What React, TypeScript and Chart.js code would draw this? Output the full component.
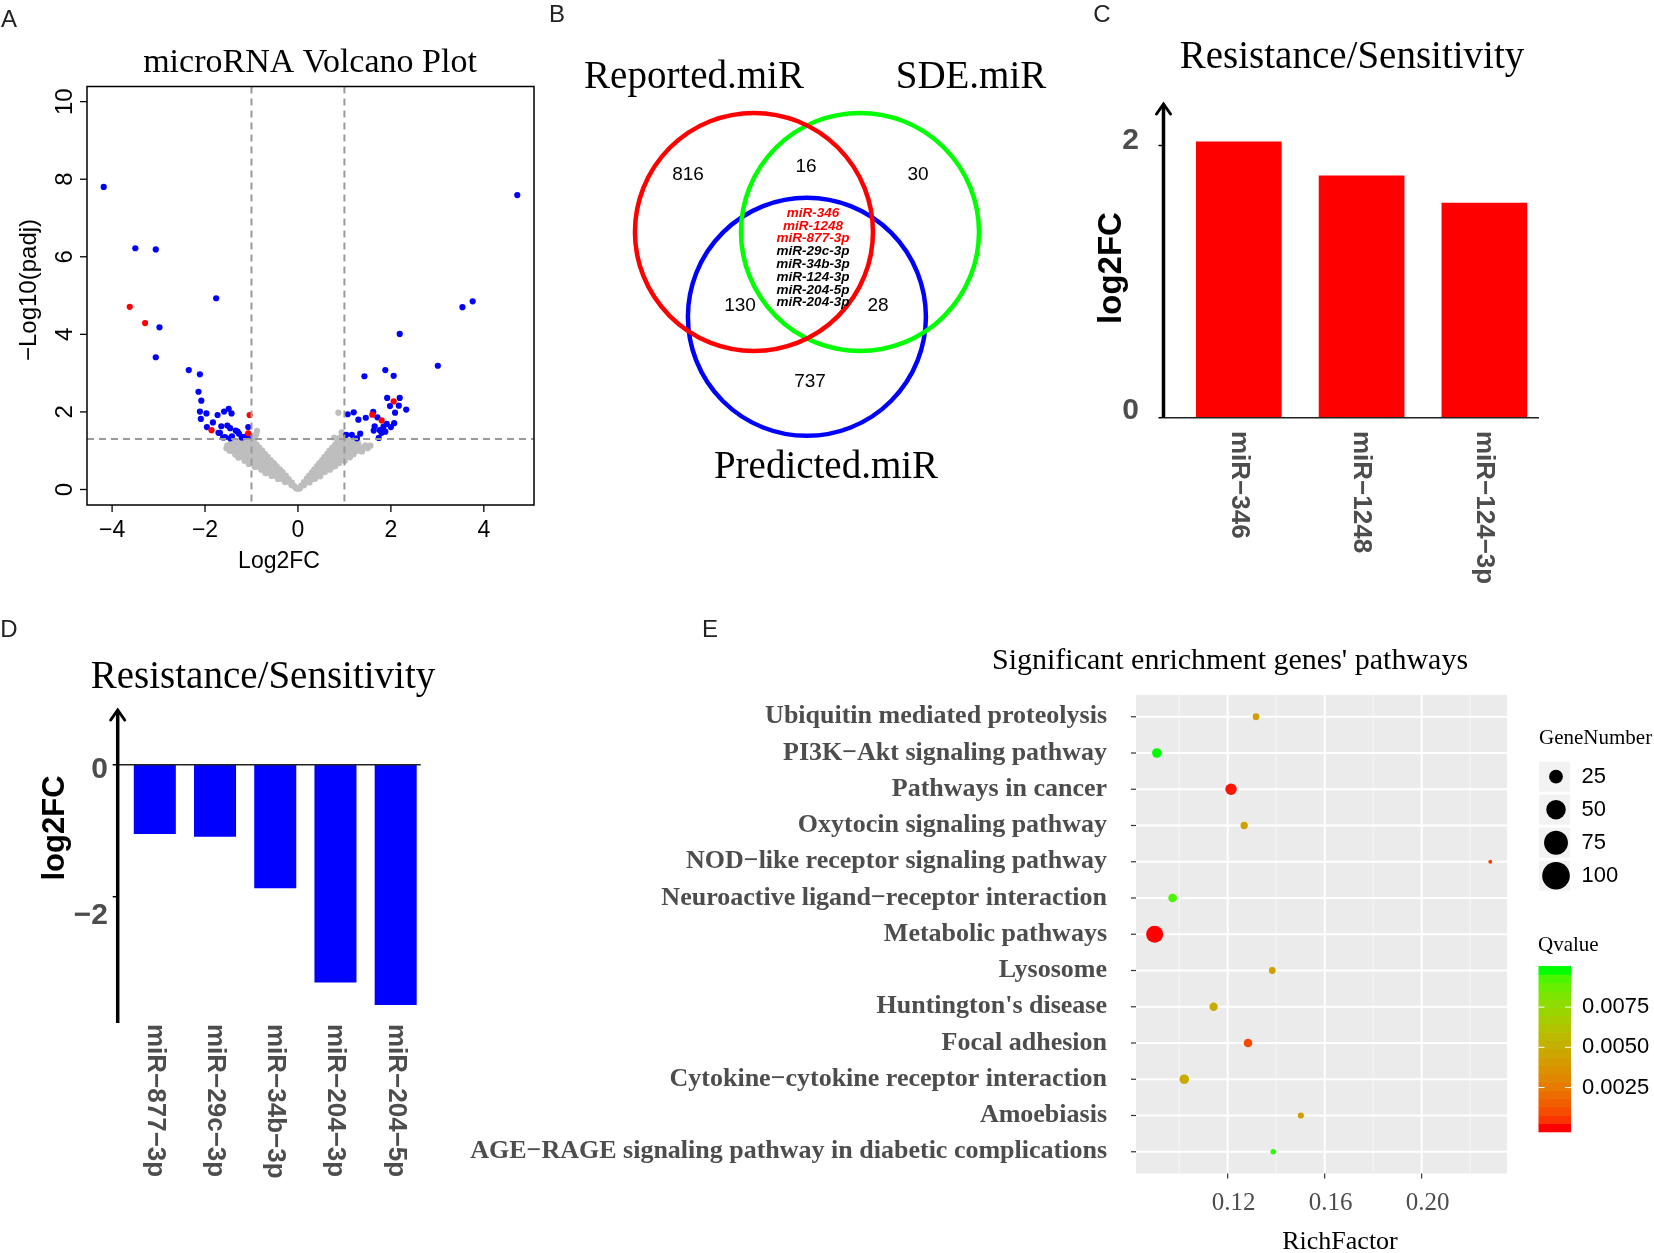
import React, { useEffect, useRef } from "react";
import { Chart, registerables } from "chart.js";

Chart.register(...registerables);

const PAGE_W = 1654;
const PAGE_H = 1253;
const SERIF = '"Liberation Serif", "Times New Roman", serif';
const SANS = '"Liberation Sans", Arial, sans-serif';

type Pt = [number, number];

// ---------------- Panel A : volcano ----------------
const volcanoXTicks = [-4, -2, 0, 2, 4];
const volcanoYTicks = [0, 2, 4, 6, 8, 10];
const fcCutoffs = [-1, 1];
const padjCutoff = 1.3;

const bluePoints: Pt[] = [
  [-4.18, 7.8], [-3.5, 6.22], [-3.06, 6.19], [-1.76, 4.93], [-2.98, 4.18], [-3.06, 3.41],
  [-2.35, 3.08], [-2.11, 2.97], [-2.14, 2.52], [-2.08, 2.29], [-2.11, 2.01], [-1.97, 1.96],
  [-2.09, 1.82], [-1.73, 1.92], [-1.59, 2.01], [-1.49, 2.08], [-1.43, 1.96], [-1.83, 1.73],
  [-1.96, 1.61], [-1.65, 1.63], [-1.52, 1.65], [-1.46, 1.58], [-1.71, 1.46], [-1.57, 1.35],
  [-1.34, 1.52], [-1.27, 1.44], [-1.42, 1.37], [-1.19, 1.35], [-1.07, 1.61], [-1.3, 1.49],
  [-1.11, 1.37], [-1.61, 1.34], [-1.46, 1.32], [-1.21, 1.34], [-1.05, 1.38], [-1.68, 1.46],
  [4.72, 7.59], [3.54, 4.7], [3.76, 4.85], [2.19, 4.01], [3.01, 3.19], [1.43, 2.92],
  [1.88, 3.08], [2.06, 2.93], [1.92, 2.36], [2.19, 2.36], [1.98, 2.15], [2.17, 2.16],
  [2.33, 2.06], [2.09, 1.98], [1.07, 1.94], [1.2, 1.99], [1.3, 1.8], [1.46, 1.85],
  [1.62, 2.0], [1.71, 1.86], [1.65, 1.63], [1.63, 1.52], [1.91, 1.69], [2.0, 1.61],
  [2.07, 1.71], [1.88, 1.49], [1.8, 1.46], [1.74, 1.33], [1.04, 1.41], [1.16, 1.41],
  [1.27, 1.32], [1.34, 1.44], [1.84, 1.62], [1.76, 1.53],
];

const redPoints: Pt[] = [
  [-3.62, 4.71], [-3.29, 4.29], [-1.86, 1.53], [-1.04, 1.92], [-1.07, 1.45],
  [2.06, 2.27], [1.6, 1.93], [1.8, 1.78],
];

const greyPoints: Pt[] = [
  [-0.02, 0.02], [-0.05, 0.04], [-0.08, 0.09], [-0.14, 0.11],
  [-0.13, 0.18], [-0.2, 0.2], [-0.28, 0.19],
  [-0.2, 0.27], [-0.28, 0.29], [-0.36, 0.28], [-0.43, 0.27],
  [-0.26, 0.36], [-0.34, 0.37], [-0.42, 0.35], [-0.5, 0.36], [-0.57, 0.35],
  [-0.33, 0.45], [-0.41, 0.44], [-0.49, 0.43], [-0.57, 0.45], [-0.65, 0.44], [-0.7, 0.42],
  [-0.39, 0.52], [-0.47, 0.53], [-0.55, 0.51], [-0.63, 0.52], [-0.71, 0.53], [-0.79, 0.51],
  [-0.46, 0.6], [-0.54, 0.61], [-0.62, 0.59], [-0.7, 0.6], [-0.78, 0.61], [-0.86, 0.59], [-0.93, 0.58],
  [-0.52, 0.68], [-0.6, 0.69], [-0.68, 0.67], [-0.76, 0.68], [-0.84, 0.69], [-0.92, 0.67], [-1.0, 0.68], [-1.06, 0.66],
  [-0.59, 0.76], [-0.67, 0.77], [-0.75, 0.75], [-0.83, 0.76], [-0.91, 0.77], [-0.99, 0.75], [-1.07, 0.76], [-1.15, 0.74],
  [-0.65, 0.84], [-0.73, 0.85], [-0.81, 0.83], [-0.89, 0.84], [-0.97, 0.85], [-1.05, 0.83], [-1.13, 0.84], [-1.21, 0.85], [-1.28, 0.82],
  [-0.71, 0.92], [-0.79, 0.93], [-0.87, 0.91], [-0.95, 0.92], [-1.03, 0.93], [-1.11, 0.91], [-1.19, 0.92], [-1.27, 0.93], [-1.35, 0.9],
  [-0.77, 1.0], [-0.85, 1.01], [-0.93, 0.99], [-1.01, 1.0], [-1.09, 1.01], [-1.17, 0.99], [-1.25, 1.0], [-1.33, 1.01], [-1.41, 0.99], [-1.47, 1.0],
  [-0.83, 1.08], [-0.91, 1.09], [-0.99, 1.07], [-1.07, 1.08], [-1.15, 1.09], [-1.23, 1.07], [-1.31, 1.08], [-1.39, 1.09], [-1.47, 1.07], [-1.54, 1.06],
  [-0.89, 1.16], [-0.97, 1.17], [-1.05, 1.15], [-1.13, 1.16], [-1.21, 1.17], [-1.29, 1.15], [-1.37, 1.16], [-1.45, 1.17], [-1.52, 1.14],
  [-0.95, 1.24], [-1.03, 1.25], [-1.11, 1.23], [-1.19, 1.24], [-1.27, 1.25], [-1.35, 1.23], [-1.43, 1.22],
  [-0.93, 1.33], [-0.98, 1.29], [-0.9, 1.42], [-0.88, 1.51], [-0.96, 1.38],
  [0.02, 0.02], [0.05, 0.04], [0.07, 0.1], [0.13, 0.11],
  [0.13, 0.19], [0.19, 0.2], [0.25, 0.18],
  [0.19, 0.28], [0.26, 0.29], [0.33, 0.27], [0.37, 0.28],
  [0.24, 0.36], [0.31, 0.37], [0.38, 0.35], [0.45, 0.36], [0.48, 0.34],
  [0.3, 0.44], [0.37, 0.45], [0.44, 0.43], [0.51, 0.44], [0.58, 0.45],
  [0.35, 0.52], [0.42, 0.53], [0.49, 0.51], [0.56, 0.52], [0.63, 0.53], [0.69, 0.51],
  [0.41, 0.6], [0.48, 0.61], [0.55, 0.59], [0.62, 0.6], [0.69, 0.61], [0.76, 0.59], [0.8, 0.6],
  [0.46, 0.68], [0.53, 0.69], [0.6, 0.67], [0.67, 0.68], [0.74, 0.69], [0.81, 0.67], [0.89, 0.68],
  [0.52, 0.76], [0.59, 0.77], [0.66, 0.75], [0.73, 0.76], [0.8, 0.77], [0.87, 0.75], [0.94, 0.76], [1.01, 0.74],
  [0.57, 0.84], [0.64, 0.85], [0.71, 0.83], [0.78, 0.84], [0.85, 0.85], [0.92, 0.83], [0.99, 0.84], [1.06, 0.85], [1.12, 0.83],
  [0.63, 0.92], [0.7, 0.93], [0.77, 0.91], [0.84, 0.92], [0.91, 0.93], [0.98, 0.91], [1.05, 0.92], [1.12, 0.93], [1.2, 0.91],
  [0.68, 1.0], [0.75, 1.01], [0.82, 0.99], [0.89, 1.0], [0.96, 1.01], [1.03, 0.99], [1.1, 1.0], [1.17, 1.01], [1.24, 0.99], [1.31, 1.0], [1.38, 0.98],
  [0.74, 1.08], [0.81, 1.09], [0.88, 1.07], [0.95, 1.08], [1.02, 1.09], [1.09, 1.07], [1.16, 1.08], [1.23, 1.09], [1.3, 1.07], [1.4, 1.08], [1.5, 1.06],
  [0.8, 1.16], [0.87, 1.17], [0.94, 1.15], [1.01, 1.16], [1.08, 1.17], [1.15, 1.15], [1.22, 1.16], [1.3, 1.17], [1.45, 1.14], [1.56, 1.13],
  [0.85, 1.24], [0.92, 1.25], [0.99, 1.23], [1.06, 1.24], [1.13, 1.25], [1.2, 1.23], [1.28, 1.22],
  [0.78, 1.34], [0.94, 1.47], [0.98, 1.38], [0.87, 1.98], [1.04, 1.28], [0.9, 1.33],
];

// ---------------- Panel B : Venn ----------------
const vennSets = ["Reported.miR", "SDE.miR", "Predicted.miR"];
const vennColors = ["#FF0000", "#00FF00", "#0000FF"];
const vennCentres: Pt[] = [[0, 0], [0.891, 0], [0.445, 0.714]];
const vennCounts = {
  reportedOnly: 816,
  reportedSde: 16,
  sdeOnly: 30,
  reportedPredicted: 130,
  sdePredicted: 28,
  predictedOnly: 737,
};
const vennCore = [
  "miR-346", "miR-1248", "miR-877-3p", "miR-29c-3p", "miR-34b-3p",
  "miR-124-3p", "miR-204-5p", "miR-204-3p",
];
const vennCoreHighlighted = 3;

// ---------------- Panel C ----------------
const upLabels = ["miR−346", "miR−1248", "miR−124−3p"];
const upValues = [2.03, 1.78, 1.58];
const upTicks = [0, 2];

// ---------------- Panel D ----------------
const downLabels = ["miR−877−3p", "miR−29c−3p", "miR−34b−3p", "miR−204−3p", "miR−204−5p"];
const downValues = [-1.05, -1.09, -1.87, -3.3, -3.64];
const downTicks = [0, -2];

// ---------------- Panel E ----------------
const pathways = [
  "Ubiquitin mediated proteolysis",
  "PI3K−Akt signaling pathway",
  "Pathways in cancer",
  "Oxytocin signaling pathway",
  "NOD−like receptor signaling pathway",
  "Neuroactive ligand−receptor interaction",
  "Metabolic pathways",
  "Lysosome",
  "Huntington's disease",
  "Focal adhesion",
  "Cytokine−cytokine receptor interaction",
  "Amoebiasis",
  "AGE−RAGE signaling pathway in diabetic complications",
];
const richFactor = [0.1317, 0.0908, 0.1214, 0.1268, 0.2283, 0.0973, 0.0899, 0.1384, 0.1142, 0.1284, 0.1021, 0.1502, 0.1388];
const geneNumber = [6, 12, 17, 7, 2, 10, 38, 6, 9, 10, 12, 5, 4];
const qValue = [0.0043, 0.0098, 0.0001, 0.0043, 0.0008, 0.0093, 0.00001, 0.0043, 0.0049, 0.001, 0.0049, 0.0043, 0.0096];
const richMajorTicks = [0.12, 0.16, 0.2];
const richMinorTicks = [0.1, 0.14, 0.18, 0.22];
const geneLegendBreaks = [25, 50, 75, 100];
const qLegendBreaks = [0.0025, 0.005, 0.0075];
const qLimits = [0.00001, 0.0098];

// ---------------- helpers ----------------
const pad = (l: number, t: number, r: number, b: number) => ({ left: l, top: t, right: PAGE_W - r, bottom: PAGE_H - b });

const baseOptions = (padding: any) => ({
  responsive: false,
  animation: false as const,
  events: [] as any[],
  layout: { padding },
  plugins: { legend: { display: false }, tooltip: { enabled: false }, title: { display: false } },
});

function drawText(ctx: CanvasRenderingContext2D, s: string, x: number, y: number, font: string, color: string,
  align: CanvasTextAlign = "center", baseline: CanvasTextBaseline = "middle", rot = 0) {
  ctx.save();
  ctx.translate(x, y);
  if (rot) ctx.rotate(rot);
  ctx.font = font;
  ctx.fillStyle = color;
  ctx.textAlign = align;
  ctx.textBaseline = baseline;
  ctx.fillText(s, 0, 0);
  ctx.restore();
}

function drawLine(ctx: CanvasRenderingContext2D, x1: number, y1: number, x2: number, y2: number, color: string, width: number, dash: number[] = []) {
  ctx.save();
  ctx.strokeStyle = color;
  ctx.lineWidth = width;
  ctx.setLineDash(dash);
  ctx.beginPath();
  ctx.moveTo(x1, y1);
  ctx.lineTo(x2, y2);
  ctx.stroke();
  ctx.restore();
}

const fmtMinus = (v: number) => (v < 0 ? "−" + Math.abs(v) : String(v));

// Lab colour interpolation (ggplot-like gradient red -> green)
const WHITE = [0.95047, 1, 1.08883];
const toLin = (c: number) => { c /= 255; return c <= 0.04045 ? c / 12.92 : Math.pow((c + 0.055) / 1.055, 2.4); };
const fromLin = (c: number) => { c = Math.max(0, Math.min(1, c)); return 255 * (c <= 0.0031308 ? 12.92 * c : 1.055 * Math.pow(c, 1 / 2.4) - 0.055); };
function rgbToLab(rgb: number[]) {
  const R = toLin(rgb[0]), G = toLin(rgb[1]), B = toLin(rgb[2]);
  const X = 0.4124 * R + 0.3576 * G + 0.1805 * B;
  const Y = 0.2126 * R + 0.7152 * G + 0.0722 * B;
  const Z = 0.0193 * R + 0.1192 * G + 0.9505 * B;
  const f = (t: number) => (t > 216 / 24389 ? Math.cbrt(t) : ((24389 / 27) * t + 16) / 116);
  const fx = f(X / WHITE[0]), fy = f(Y / WHITE[1]), fz = f(Z / WHITE[2]);
  return [116 * fy - 16, 500 * (fx - fy), 200 * (fy - fz)];
}
function labToRgb(lab: number[]) {
  const fy = (lab[0] + 16) / 116, fx = fy + lab[1] / 500, fz = fy - lab[2] / 200;
  const inv = (t: number) => (t * t * t > 216 / 24389 ? t * t * t : (116 * t - 16) / (24389 / 27));
  const X = WHITE[0] * inv(fx), Y = WHITE[1] * inv(fy), Z = WHITE[2] * inv(fz);
  const R = 3.2406 * X - 1.5372 * Y - 0.4986 * Z;
  const G = -0.9689 * X + 1.8758 * Y + 0.0415 * Z;
  const B = 0.0557 * X - 0.204 * Y + 1.057 * Z;
  return [fromLin(R), fromLin(G), fromLin(B)];
}
const LAB_LOW = rgbToLab([255, 0, 0]);
const LAB_HIGH = rgbToLab([0, 255, 0]);
function qColor(q: number) {
  const t = Math.max(0, Math.min(1, (q - qLimits[0]) / (qLimits[1] - qLimits[0])));
  const lab = LAB_LOW.map((v, i) => v + (LAB_HIGH[i] - v) * t);
  const c = labToRgb(lab).map((v) => Math.round(v));
  return `rgb(${c[0]},${c[1]},${c[2]})`;
}
const geneRadius = (g: number) => 1.38 * Math.sqrt(g);

// ---------------- chart builders ----------------
function buildVolcano(canvas: HTMLCanvasElement) {
  const deco = {
    id: "volcanoDeco",
    afterDatasetsDraw(chart: any) {
      const { ctx, chartArea: a, scales } = chart;
      const x = scales.x, y = scales.y;
      for (const v of fcCutoffs) {
        const px = x.getPixelForValue(v);
        drawLine(ctx, px, a.top, px, a.bottom, "#9a9a9a", 2, [7, 5]);
      }
      const py = y.getPixelForValue(padjCutoff);
      drawLine(ctx, a.left, py, a.right, py, "#9a9a9a", 2, [7, 5]);
      ctx.save();
      ctx.strokeStyle = "#000";
      ctx.lineWidth = 1.5;
      ctx.strokeRect(a.left, a.top, a.right - a.left, a.bottom - a.top);
      ctx.restore();
      for (const v of volcanoXTicks) {
        const px = x.getPixelForValue(v);
        drawLine(ctx, px, a.bottom, px, a.bottom + 7, "#000", 1.3);
        drawText(ctx, fmtMinus(v), px, 531, `23px ${SANS}`, "#000");
      }
      for (const v of volcanoYTicks) {
        const yy = y.getPixelForValue(v);
        drawLine(ctx, a.left - 7, yy, a.left, yy, "#000", 1.3);
        drawText(ctx, String(v), 65, yy, `24px ${SANS}`, "#000", "center", "middle", -Math.PI / 2);
      }
      drawText(ctx, "microRNA Volcano Plot", 310, 63, `34px ${SERIF}`, "#000");
      drawText(ctx, "Log2FC", 279, 562, `23px ${SANS}`, "#000");
      drawText(ctx, "−Log10(padj)", 29, 290, `24px ${SANS}`, "#000", "center", "middle", -Math.PI / 2);
      drawText(ctx, "A", 9, 20, `24px ${SANS}`, "#222");
    },
  };
  const mk = (pts: Pt[], color: string, order: number) => ({
    data: pts.map(([px, py]) => ({ x: px, y: py })),
    pointRadius: 3.1,
    pointBackgroundColor: color,
    pointBorderWidth: 0,
    pointBorderColor: color,
    borderWidth: 0,
    order,
  });
  return new Chart(canvas, {
    type: "scatter",
    data: { datasets: [mk(greyPoints, "#BEBEBE", 3), mk(bluePoints, "#0000FF", 2), mk(redPoints, "#FF0000", 1)] as any },
    options: {
      ...baseOptions(pad(87, 86.5, 534, 505)),
      scales: {
        x: { type: "linear", display: false, min: -4.54, max: 5.08 },
        y: { type: "linear", display: false, min: -0.4, max: 10.39 },
      },
    } as any,
    plugins: [deco],
  });
}

function buildVenn(canvas: HTMLCanvasElement) {
  const deco = {
    id: "vennDeco",
    afterDatasetsDraw(chart: any) {
      const { ctx } = chart;
      const setFont = `39px ${SERIF}`;
      drawText(ctx, vennSets[0], 694, 78, setFont, "#000");
      drawText(ctx, vennSets[1], 971, 78, setFont, "#000");
      drawText(ctx, vennSets[2], 826, 468, setFont, "#000");
      const nf = `19px ${SANS}`;
      drawText(ctx, String(vennCounts.reportedOnly), 688, 175, nf, "#000");
      drawText(ctx, String(vennCounts.reportedSde), 806, 167, nf, "#000");
      drawText(ctx, String(vennCounts.sdeOnly), 918, 175, nf, "#000");
      drawText(ctx, String(vennCounts.reportedPredicted), 740, 306, nf, "#000");
      drawText(ctx, String(vennCounts.sdePredicted), 878, 306, nf, "#000");
      drawText(ctx, String(vennCounts.predictedOnly), 810, 382, nf, "#000");
      vennCore.forEach((name, i) => {
        drawText(ctx, name, 813, 213 + i * 12.8, `italic bold 13.5px ${SANS}`, i < vennCoreHighlighted ? "#FF0000" : "#000");
      });
      drawText(ctx, "B", 557, 15, `24px ${SANS}`, "#222");
    },
  };
  const unitRadius = (c: any) => c.chart.scales.x.getPixelForValue(1) - c.chart.scales.x.getPixelForValue(0);
  return new Chart(canvas, {
    type: "scatter",
    data: {
      datasets: vennCentres.map((c, i) => ({
        data: [{ x: c[0], y: c[1] }],
        pointRadius: unitRadius,
        pointBackgroundColor: "rgba(0,0,0,0)",
        pointBorderColor: vennColors[i],
        pointBorderWidth: 4.5,
        clip: false,
      })) as any,
    },
    options: {
      ...baseOptions(pad(629, 107, 1105, 446)),
      scales: {
        x: { type: "linear", display: false, min: -1.05, max: 2.95 },
        y: { type: "linear", display: false, min: -1.05, max: 1.8, reverse: true },
      },
    } as any,
    plugins: [deco],
  });
}

function buildBars(canvas: HTMLCanvasElement, cfg: any) {
  const deco = {
    id: "barDeco" + cfg.letter,
    afterDatasetsDraw(chart: any) {
      const { ctx, chartArea: a, scales } = chart;
      const x = scales.x, y = scales.y;
      const y0 = y.getPixelForValue(0);
      drawLine(ctx, cfg.axisX, y0, cfg.baseEnd, y0, "#222", 1.5);
      drawLine(ctx, cfg.axisX, a.bottom, cfg.axisX, a.top + 1, "#000", 3.5);
      ctx.save();
      ctx.strokeStyle = "#000";
      ctx.lineWidth = 3;
      ctx.lineCap = "round";
      ctx.beginPath();
      ctx.moveTo(cfg.axisX - 7, a.top + 10);
      ctx.lineTo(cfg.axisX, a.top);
      ctx.lineTo(cfg.axisX + 7, a.top + 10);
      ctx.stroke();
      ctx.restore();
      cfg.ticks.forEach((v: number, i: number) => {
        const py = y.getPixelForValue(v);
        drawLine(ctx, cfg.axisX - 5, py, cfg.axisX, py, "#000", 1.5);
        drawText(ctx, fmtMinus(v), cfg.tickRight, py + cfg.tickOffsets[i], `bold 30px ${SANS}`, "#4D4D4D", "right");
      });
      chart.data.labels.forEach((lab: string, i: number) => {
        const px = x.getPixelForValue(i);
        drawText(ctx, lab, px, cfg.labelTop, `bold 26px ${SANS}`, "#4D4D4D", "left", "middle", Math.PI / 2);
      });
      drawText(ctx, "log2FC", cfg.yTitle[0], cfg.yTitle[1], `bold ${cfg.yTitleSize}px ${SANS}`, "#000", "center", "middle", -Math.PI / 2);
      drawText(ctx, "Resistance/Sensitivity", cfg.title[0], cfg.title[1], `39px ${SERIF}`, "#000");
      drawText(ctx, cfg.letter, cfg.letterPos[0], cfg.letterPos[1], `24px ${SANS}`, "#222");
    },
  };
  return new Chart(canvas, {
    type: "bar",
    data: {
      labels: cfg.labels,
      datasets: [{ data: cfg.values, backgroundColor: cfg.color, borderWidth: 0, barPercentage: 0.698, categoryPercentage: 1 }],
    },
    options: {
      ...baseOptions(cfg.padding),
      scales: {
        x: { type: "category", display: false, offset: true },
        y: { type: "linear", display: false, min: cfg.min, max: cfg.max },
      },
    } as any,
    plugins: [deco],
  });
}

const buildUp = (c: HTMLCanvasElement) =>
  buildBars(c, {
    letter: "C", letterPos: [1102, 15], labels: upLabels, values: upValues, color: "#FF0000",
    padding: pad(1177.4, 104, 1545.8, 417.7), min: 0, max: 2.305,
    axisX: 1163.5, baseEnd: 1539, ticks: upTicks, tickOffsets: [-7, -5], tickRight: 1139,
    labelTop: 431, yTitle: [1112, 268], yTitleSize: 33, title: [1352, 58],
  });

const buildDown = (c: HTMLCanvasElement) =>
  buildBars(c, {
    letter: "D", letterPos: [9, 630], labels: downLabels, values: downValues, color: "#0000FF",
    padding: pad(124.7, 710, 425.8, 1023), min: -3.914, max: 0.83,
    axisX: 117.7, baseEnd: 420.7, ticks: downTicks, tickOffsets: [5, 19], tickRight: 108,
    labelTop: 1024, yTitle: [55, 828], yTitleSize: 31, title: [263, 678],
  });

function buildEnrich(canvas: HTMLCanvasElement) {
  const deco = {
    id: "enrichDeco",
    beforeDatasetsDraw(chart: any) {
      const { ctx, chartArea: a, scales } = chart;
      const x = scales.x, y = scales.y;
      ctx.save();
      ctx.fillStyle = "#EBEBEB";
      ctx.fillRect(a.left, a.top, a.right - a.left, a.bottom - a.top);
      ctx.restore();
      for (const v of richMinorTicks) {
        const px = x.getPixelForValue(v);
        drawLine(ctx, px, a.top, px, a.bottom, "#F7F7F7", 1);
      }
      for (const v of richMajorTicks) {
        const px = x.getPixelForValue(v);
        drawLine(ctx, px, a.top, px, a.bottom, "#FFFFFF", 2);
      }
      pathways.forEach((_, i) => {
        const py = y.getPixelForValue(i + 1);
        drawLine(ctx, a.left, py, a.right, py, "#FFFFFF", 2);
      });
    },
    afterDatasetsDraw(chart: any) {
      const { ctx, chartArea: a, scales } = chart;
      const x = scales.x, y = scales.y;
      pathways.forEach((name, i) => {
        const py = y.getPixelForValue(i + 1);
        drawLine(ctx, a.left - 5, py, a.left, py, "#333", 1.2);
        drawText(ctx, name, 1107, py, `bold 26px ${SERIF}`, "#4D4D4D", "right");
      });
      for (const v of richMajorTicks) {
        const px = x.getPixelForValue(v);
        drawLine(ctx, px, a.bottom, px, a.bottom + 5, "#333", 1.2);
        drawText(ctx, v.toFixed(2), px + 6, 1203, `25px ${SERIF}`, "#4D4D4D");
      }
      drawText(ctx, "RichFactor", 1340, 1242, `26px ${SERIF}`, "#000");
      drawText(ctx, "Significant enrichment genes' pathways", 1230, 661, `30px ${SERIF}`, "#000");
      drawText(ctx, "E", 710, 630, `24px ${SANS}`, "#222");

      // size legend
      drawText(ctx, "GeneNumber", 1539, 738, `21px ${SERIF}`, "#000", "left");
      geneLegendBreaks.forEach((g, i) => {
        const cy = 776.7 + i * 33;
        ctx.save();
        ctx.fillStyle = "#F2F2F2";
        ctx.fillRect(1539, cy - 15, 31, 30);
        ctx.fillStyle = "#000";
        ctx.beginPath();
        ctx.arc(1556, cy, geneRadius(g), 0, Math.PI * 2);
        ctx.fill();
        ctx.restore();
        drawText(ctx, String(g), 1581.5, cy, `22px ${SANS}`, "#000", "left");
      });

      // colour legend
      drawText(ctx, "Qvalue", 1538, 945, `21px ${SERIF}`, "#000", "left");
      const barL = 1538.5, barR = 1571, barT = 966, barB = 1131.7, nbin = 20;
      const h = (barB - barT) / nbin;
      for (let i = 0; i < nbin; i++) {
        const v = qLimits[0] + (i / (nbin - 1)) * (qLimits[1] - qLimits[0]);
        ctx.save();
        ctx.fillStyle = qColor(v);
        ctx.fillRect(barL, barB - (i + 1) * h, barR - barL, h + 0.6);
        ctx.restore();
      }
      for (const q of qLegendBreaks) {
        const py = barB - h / 2 - ((q - qLimits[0]) / (qLimits[1] - qLimits[0])) * (barB - barT - h);
        drawLine(ctx, barL, py, barL + 6, py, "#FFFFFF", 1);
        drawLine(ctx, barR - 6, py, barR, py, "#FFFFFF", 1);
        drawText(ctx, q.toFixed(4), 1582, py, `22px ${SANS}`, "#000", "left");
      }
    },
  };
  return new Chart(canvas, {
    type: "scatter",
    data: {
      datasets: [
        {
          data: pathways.map((_, i) => ({ x: richFactor[i], y: i + 1 })),
          pointRadius: (c: any) => geneRadius(geneNumber[c.dataIndex] ?? 1),
          pointBackgroundColor: (c: any) => qColor(qValue[c.dataIndex] ?? 0),
          pointBorderWidth: 0,
          borderWidth: 0,
        },
      ] as any,
    },
    options: {
      ...baseOptions(pad(1136, 695, 1507, 1173.5)),
      scales: {
        x: { type: "linear", display: false, min: 0.0822, max: 0.2352 },
        y: { type: "linear", display: false, min: 0.4, max: 13.6, reverse: true },
      },
    } as any,
    plugins: [deco],
  });
}

function ChartCanvas({ build }: { build: (c: HTMLCanvasElement) => Chart }) {
  const ref = useRef<HTMLCanvasElement>(null);
  useEffect(() => {
    if (!ref.current) return;
    const chart = build(ref.current);
    return () => chart.destroy();
  }, [build]);
  return (
    <canvas
      ref={ref}
      width={PAGE_W}
      height={PAGE_H}
      style={{ position: "absolute", left: 0, top: 0, width: PAGE_W, height: PAGE_H }}
    />
  );
}

export default function App() {
  return (
    <div style={{ position: "absolute", left: 0, top: 0, width: PAGE_W, height: PAGE_H, background: "#fff", overflow: "hidden" }}>
      <ChartCanvas build={buildVolcano} />
      <ChartCanvas build={buildVenn} />
      <ChartCanvas build={buildUp} />
      <ChartCanvas build={buildDown} />
      <ChartCanvas build={buildEnrich} />
    </div>
  );
}
